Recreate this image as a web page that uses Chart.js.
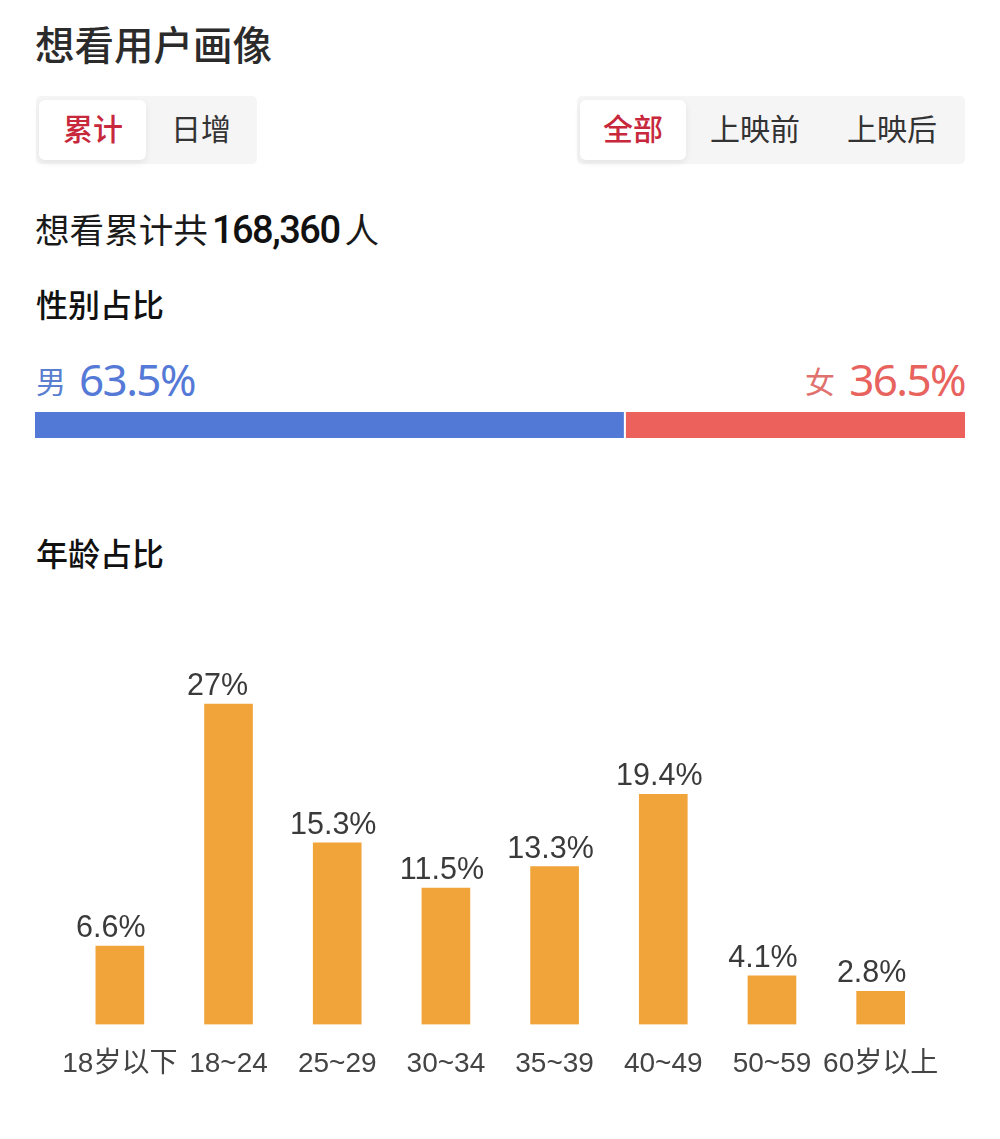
<!DOCTYPE html>
<html lang="zh">
<head>
<meta charset="utf-8">
<title>想看用户画像</title>
<script src="https://cdn.jsdelivr.net/npm/chart.js@4"></script>
<style>
  html, body { margin: 0; padding: 0; background: #fff; }
  #page { position: relative; width: 1000px; height: 1139px; overflow: hidden; font-family: "Noto Sans CJK SC", sans-serif; color: #222; }
  #page > * { position: absolute; }
  .txt { white-space: nowrap; line-height: 1; }
  .tabs { background: #f5f5f5; border-radius: 5px; top: 96px; height: 68px; }
  .active { background: #fff; border-radius: 6px; top: 100px; height: 60px; box-shadow: 0 3px 7px rgba(0,0,0,.07); }
  .tab { font-size: 30px; top: 112px; color: #333; font-weight: 400; }
  .on { color: #c8283c; font-weight: 500; }
  .head { font-size: 32px; font-weight: 500; color: #111; }
  canvas { display: block; }
</style>
</head>
<body>
<div id="page">
  <div class="txt" style="left:35px;top:23px;font-size:39.5px;font-weight:500;color:#2b2b2b">想看用户画像</div>

  <div class="tabs" style="left:36px;width:221px"></div>
  <div class="active" style="left:39px;width:107px"></div>
  <div class="txt tab on" style="left:63px">累计</div>
  <div class="txt tab" style="left:171px">日增</div>

  <div class="tabs" style="left:577px;width:388px"></div>
  <div class="active" style="left:580px;width:106px"></div>
  <div class="txt tab on" style="left:603px">全部</div>
  <div class="txt tab" style="left:710px">上映前</div>
  <div class="txt tab" style="left:847px">上映后</div>

  <div class="txt" style="left:35px;top:211px;font-size:34.6px;color:#1a1a1a">想看累计共<span id="total" style="font-family:Roboto,sans-serif;font-weight:500;font-size:38px;letter-spacing:-1.5px;color:#111;margin:0 5px 0 4px"></span>人</div>

  <div class="txt head" style="left:36px;top:287px">性别占比</div>
  <div class="txt" id="maleLabel" style="left:36px;top:365px;font-size:30px;color:#5a7fd0"></div>
  <div class="txt" id="malePct" style="left:79px;top:357px;font-size:44px;color:#5579d6;font-family:'Noto Sans',sans-serif;letter-spacing:-1.6px"></div>
  <div class="txt" id="femaleLabel" style="left:805px;top:365px;font-size:30px;color:#e0716e"></div>
  <div class="txt" id="femalePct" style="right:35px;top:357px;font-size:44px;color:#e8625e;font-family:'Noto Sans',sans-serif;letter-spacing:-1.6px"></div>
  <canvas id="genderChart" width="930" height="26" style="left:35px;top:412px"></canvas>

  <div class="txt head" style="left:36px;top:536px">年龄占比</div>
  <canvas id="ageChart" width="1000" height="440" style="left:0;top:660px"></canvas>
</div>

<script>
const totalCount = '168,360';
const genderLabels = ['男', '女'];
const genderValues = [63.5, 36.5];
const ageLabels = ['18岁以下', '18~24', '25~29', '30~34', '35~39', '40~49', '50~59', '60岁以上'];
const ageValues = [6.6, 27, 15.3, 11.5, 13.3, 19.4, 4.1, 2.8];

const labelFont = '"Liberation Sans", "Noto Sans CJK SC", sans-serif';
// the labels sit left of the bar centre, the shorter the text the further
const labelShift = { 3: -11, 4: -9, 5: -4 };

document.getElementById('total').textContent = totalCount;
document.getElementById('maleLabel').textContent = genderLabels[0];
document.getElementById('femaleLabel').textContent = genderLabels[1];
document.getElementById('malePct').textContent = genderValues[0] + '%';
document.getElementById('femalePct').textContent = genderValues[1] + '%';

new Chart(document.getElementById('genderChart'), {
  type: 'bar',
  data: {
    labels: ['性别'],
    datasets: [
      { label: genderLabels[0], data: [genderValues[0]], backgroundColor: '#5379d6', barPercentage: 1, categoryPercentage: 1,
        borderColor: '#fff', borderWidth: { right: 2 }, borderSkipped: false },
      { label: genderLabels[1], data: [genderValues[1]], backgroundColor: '#ec615c', barPercentage: 1, categoryPercentage: 1 }
    ]
  },
  options: {
    indexAxis: 'y',
    responsive: false,
    animation: false,
    plugins: { legend: { display: false }, tooltip: { enabled: false } },
    scales: {
      x: { stacked: true, display: false, min: 0, max: 100 },
      y: { stacked: true, display: false }
    }
  }
});

// draws the percentage above each bar
const barValueLabels = {
  id: 'barValueLabels',
  afterDatasetsDraw(chart) {
    const c = chart.ctx;
    c.save();
    c.font = '30.5px ' + labelFont;
    c.fillStyle = '#3a3a3a';
    c.textAlign = 'center';
    c.textBaseline = 'alphabetic';
    chart.getDatasetMeta(0).data.forEach(function (bar, i) {
      const text = ageValues[i] + '%';
      c.fillText(text, bar.x + labelShift[text.length], bar.y - 9);
    });
    c.restore();
  }
};

new Chart(document.getElementById('ageChart'), {
  type: 'bar',
  data: {
    labels: ageLabels,
    datasets: [{ data: ageValues, backgroundColor: '#f1a43a', barThickness: 48 }]
  },
  plugins: [barValueLabels],
  options: {
    responsive: false,
    animation: false,
    layout: { padding: { left: 65.5, right: 65, top: 8.5, bottom: 0 } },
    plugins: { legend: { display: false }, tooltip: { enabled: false } },
    scales: {
      y: { display: false, min: 0, max: 30 },
      x: {
        grid: { display: false },
        border: { display: false },
        afterFit(scale) { scale.height = 75.5; },
        ticks: {
          autoSkip: false,
          maxRotation: 0,
          padding: 15,
          color: '#444',
          font: { family: labelFont, size: 28 }
        }
      }
    }
  }
});
</script>
</body>
</html>
